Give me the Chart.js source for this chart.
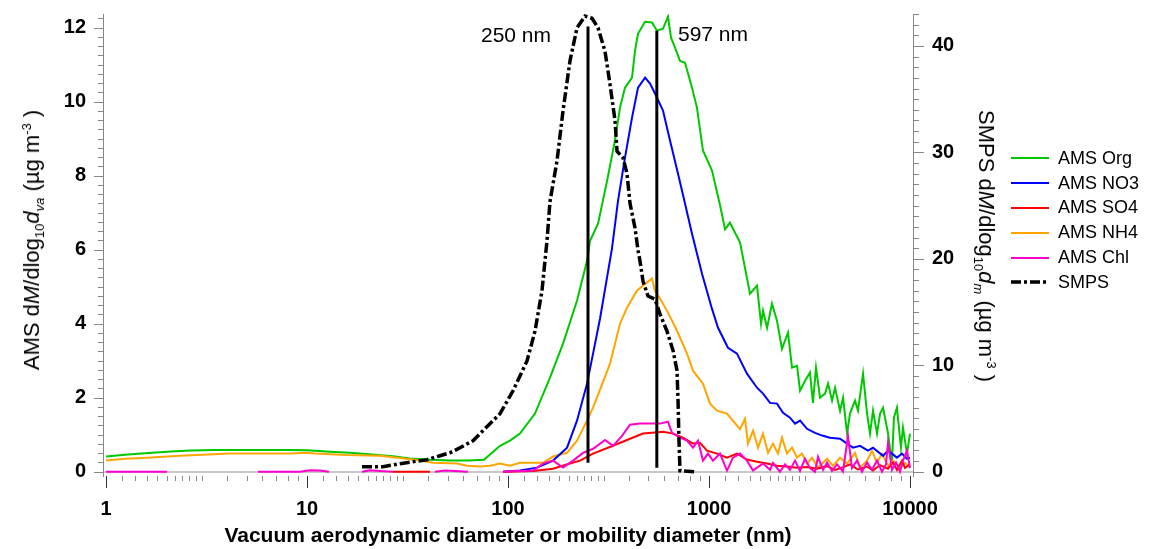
<!DOCTYPE html>
<html>
<head>
<meta charset="utf-8">
<script src="https://cdn.jsdelivr.net/npm/chart.js@4.4.1/dist/chart.umd.min.js"></script>
<style>
html,body{margin:0;padding:0;background:#fff;overflow:hidden;}
#wrap{position:relative;width:1157px;height:549px;font-family:"Liberation Sans",Arial,Helvetica,sans-serif;color:#000;}
#c{position:absolute;left:0;top:0;}
.vt{position:absolute;white-space:nowrap;font-size:22px;line-height:24px;}
.vt sub,.vt sup{font-size:13px;line-height:0;}
.ann{position:absolute;font-size:21px;line-height:24px;white-space:nowrap;}
#legend{position:absolute;left:1011px;top:146px;}
.lg{display:flex;align-items:center;height:24.8px;font-size:18px;white-space:nowrap;}
.lg svg{margin-right:9px;display:block;}
</style>
</head>
<body>
<div id="wrap">
<canvas id="c" width="1157" height="549"></canvas>
<div class="vt" style="left:32px;top:240px;transform:translate(-50%,-50%) rotate(-90deg);">AMS d<i>M</i>/dlog<sub>10</sub><i>d</i><sub><i>va</i></sub> (µg m<sup>-3</sup> )</div>
<div class="vt" style="left:986px;top:246px;transform:translate(-50%,-50%) rotate(90deg);">SMPS d<i>M</i>/dlog<sub>10</sub><i>d</i><sub><i>m</i></sub> (µg m<sup>-3</sup> )</div>
<div class="ann" id="ann0" style="left:471px;top:23px;width:80px;text-align:right;"></div>
<div class="ann" id="ann1" style="left:675px;top:22px;padding-left:3px;background:#fff;"></div>
<div id="legend"></div>
</div>
<script>
// ---------------- data ----------------
const orgDiam = [1.00,1.243,1.563,2.012,2.618,3.484,4.64,6.18,8.23,10.0,13.02,16.37,21.79,26.79,32.54,40.92,51.45,63.24,75.97,91.24,102.3,114.7,136.2,161.8,187.8,220.4,247.3,255.9,280.5,311.1,340.5,360.7,382.0,414.0,428.5,443.5,480.8,520.4,551.1,590.2,625.2,647.1,677.6,717.8,760,823,871,933,1035,1135,1202,1271,1426,1600,1733,1815,1857,1945,2057,2179,2307,2388,2472,2588,2742,2838,3006,3180,3290,3407,3568,3779,3912,4095,4239,4487,4645,4864,5027,5326,5512,5839,6114,6325,6546,6855,7096,7345,7780,8133,8318,8610,9016,9226,9662,10000];
const orgValues = [0.41,0.46,0.50,0.54,0.57,0.59,0.59,0.59,0.59,0.58,0.54,0.51,0.46,0.42,0.36,0.32,0.30,0.30,0.32,0.70,0.84,1.03,1.57,2.54,3.46,4.62,5.70,6.24,6.70,7.86,8.95,9.84,10.38,10.65,11.38,11.84,12.16,12.14,11.92,11.97,12.30,11.73,11.46,11.10,11.05,10.38,9.84,8.68,8.14,7.20,6.55,6.73,6.20,4.81,5.03,4.00,4.35,3.89,4.54,4.08,3.32,3.54,3.76,2.81,2.86,2.19,2.46,2.68,1.86,2.81,2.00,2.11,2.38,1.92,2.27,1.65,2.00,1.03,1.57,1.92,1.65,2.65,1.57,1.03,1.65,1.03,1.57,1.73,1.03,0.22,1.46,1.73,0.65,1.19,0.49,1.03];

const no3Diam = [94.4,114.7,139.4,167.5,196.7,220.4,247.3,264.9,287.0,329.0,352.6,382.0,414.0,443.5,480.8,508.8,538.7,590.2,639.7,701.3,760,823,923,1035,1109,1243,1378,1545,1733,1857,2012,2179,2335,2529,2679,2838,3073,3368,3692,3999,4487,4864,5205,5640,6180,6546,7345,7780,8610,9125,9662,10000];
const no3Values = [0.0,0.03,0.11,0.30,0.65,1.38,2.38,3.19,4.14,6.03,7.32,8.49,9.57,10.38,10.65,10.49,10.22,9.76,8.95,8.05,7.24,6.43,5.35,4.40,3.89,3.35,3.19,2.65,2.27,2.11,1.86,1.84,1.59,1.46,1.30,1.38,1.16,1.05,0.97,0.92,0.89,0.76,0.65,0.70,0.57,0.65,0.43,0.57,0.38,0.49,0.35,0.38];

const nh4Diam = [1.00,1.243,1.60,2.334,4.139,8.23,10.0,10.96,15.81,23.08,29.01,36.49,42.36,55.75,62.52,72.56,81.37,91.24,102.3,114.7,149.3,167.5,196.7,220.4,247.2,264.9,287.0,321.7,360.7,390.8,438.3,469.4,520.5,538.7,570.6,625.2,693.3,777.3,832.6,933.4,1012,1096,1229,1426,1511,1563,1656,1753,1856,1966,2082,2204,2308,2444,2588,2741,2902,3073,3253,3486,3865,4140,4485,4861,5325,5640,6111,6471,6853,7256,7773,8232,8918,9443,10000];
const nh4Values = [0.30,0.35,0.38,0.43,0.49,0.49,0.51,0.49,0.45,0.43,0.37,0.30,0.24,0.22,0.16,0.14,0.16,0.22,0.16,0.24,0.24,0.41,0.51,0.84,1.38,1.73,2.22,2.92,4.00,4.43,4.89,5.03,5.22,4.89,4.68,4.30,3.81,3.19,2.73,2.38,1.84,1.65,1.57,1.15,1.43,0.76,1.11,0.65,1.03,0.51,0.76,0.49,0.92,0.49,0.65,0.38,0.49,0.22,0.38,0.11,0.35,0.16,0.38,0.22,0.51,0.11,0.30,0.57,0.24,0.49,0.16,0.30,0.11,0.24,0.11];

const so4Diam = [26.79,40.92,64.7,94.4,133.2,167.5,203.4,228.2,264.9,333.0,404.6,469.4,520.5,590.3,662.2,742.5,832.6,902.2,977.3,1096,1229,1378,1545,1733,1943,2179,2444,2741,3073,3446,3865,4236,4642,5029,5511,6111,6545,7090,7773,8232,8617,9125,9443,10000];
const so4Values = [0,0,null,0,0.02,0.08,0.22,0.30,0.49,0.70,0.89,1.03,1.05,1.08,1.03,0.92,0.76,0.78,0.57,0.49,0.38,0.49,0.33,0.27,0.22,0.16,0.14,0.11,0.13,0.08,0.15,0.05,0.12,0.20,0.06,0.14,0.03,0.18,0.08,0.25,0.05,0.30,0.10,0.20];

const chlDiam = [1.00,2.012,2.936,5.70,9.23,10.35,11.60,12.87,15.45,18.78,20.58,23.08,26.79,34.45,43.34,48.60,54.49,63.24,76.84,94.4,133.2,149.3,167.5,187.8,210.6,236.2,264.9,303.8,333.0,369.2,404.6,453.6,508.8,570.6,625.2,654.6,717.3,777.3,832.6,881.9,933.4,988.5,1047,1134,1229,1316,1426,1545,1656,1733,1856,2012,2082,2255,2388,2529,2679,2836,3003,3181,3368,3486,3692,3865,4092,4333,4642,4915,5145,5448,5771,6111,6471,6853,7256,7597,7773,8136,8518,8918,9231,9662,10000];
const chlValues = [0,0,null,0,0,0.04,0.03,0,null,0,0.04,0.02,0,null,0,0.03,0.02,0,null,0,0.03,0.22,0.30,0.11,0.30,0.51,0.62,0.86,0.70,0.97,1.27,1.30,1.30,1.30,1.35,1.05,0.92,0.84,0.65,0.84,0.30,0.49,0.30,0.49,0.03,0.38,0.49,0.30,0.03,0.11,0.22,0.05,0.24,0.00,0.20,0.05,0.30,0.02,0.35,0.10,0.00,0.40,0.05,0.25,0.02,0.20,0.00,0.97,0.10,0.30,0.00,0.25,0.05,0.30,0.00,0.20,0.78,0.05,0.25,0.00,0.30,0.57,0.10];

const smpsDiam = [18.78,23.88,29.01,39.54,45.89,51.45,57.70,66.97,72.56,91.24,105.9,124.3,136.2,147.6,156.3,161.8,175.3,187.8,203.4,220.4,241.7,261.8,280.4,303.8,321.7,340.7,348.6,373.4,390.8,404.6,428.4,443.5,453.6,469.4,497.2,538.7,570.6,618.0,662.2,693.3,701.3,709.1,717.3,851.9];
const smpsValues = [0.47,0.47,0.75,1.13,1.50,1.78,2.25,2.91,3.57,5.45,7.6,10.4,13.2,17.0,21.7,25.4,29.2,33.9,38.6,41.7,42.8,42.6,41.7,39.5,36.4,33.0,30.1,29.5,28.0,25.2,22.9,20.8,19.8,17.9,16.5,16.2,14.8,13.2,11.4,9.5,6.7,2.9,0.09,0.0];

const markerDiam = [250, 550];
const markerBottom = [0.24, 0.11];
const markerTop = [12.03, 11.92];
const markerLabels = ['250 nm', '597 nm'];

const seriesNames = ['AMS Org', 'AMS NO3', 'AMS SO4', 'AMS NH4', 'AMS Chl', 'SMPS'];
const xTickLabels = [1, 10, 100, 1000, 10000];
const yLeftTicks = [0, 2, 4, 6, 8, 10, 12];
const yRightTicks = [0, 10, 20, 30, 40];

// ---------------- styling ----------------
const colors = {
  'AMS Org': '#00c800', 'AMS NO3': '#0000ff', 'AMS SO4': '#ff0000',
  'AMS NH4': '#ffa500', 'AMS Chl': '#ff00cc', 'SMPS': '#000000'
};
const smpsDash = [10, 3, 3, 3];
const xMinorMult = [1,1.2,1.4,1.6,1.8,2,2.2,2.4,2.6,2.8,3,4,5,6,7,8,9];

function pts(d, v) { return d.map((x, i) => ({ x: x, y: v[i] })); }

const amsSets = {
  'AMS Org': pts(orgDiam, orgValues),
  'AMS NO3': pts(no3Diam, no3Values),
  'AMS SO4': pts(so4Diam, so4Values),
  'AMS NH4': pts(nh4Diam, nh4Values),
  'AMS Chl': pts(chlDiam, chlValues)
};

const datasets = [];
markerDiam.forEach((d, i) => {
  datasets.push({
    label: 'marker' + i, data: [{ x: d, y: markerBottom[i] }, { x: d, y: markerTop[i] }],
    borderColor: '#000', borderWidth: 3, yAxisID: 'y', pointRadius: 0, fill: false
  });
});
datasets.push({
  label: 'SMPS', data: pts(smpsDiam, smpsValues), yAxisID: 'y2',
  borderColor: colors['SMPS'], borderWidth: 3.5, borderDash: smpsDash, pointRadius: 0, fill: false
});
['AMS Chl', 'AMS SO4', 'AMS NO3', 'AMS NH4', 'AMS Org'].forEach(n => {
  datasets.push({
    label: n, data: amsSets[n], yAxisID: 'y',
    borderColor: colors[n], borderWidth: 2, pointRadius: 0, fill: false, spanGaps: false
  });
});

const FONT = '"Liberation Sans", Arial, Helvetica, sans-serif';
Chart.defaults.font.family = FONT;
Chart.defaults.color = '#000';

const tickMarks = {
  id: 'tickMarks',
  afterDraw(chart) {
    const { ctx, chartArea: ca } = chart;
    const x = chart.scales.x, y = chart.scales.y, y2 = chart.scales.y2;
    ctx.save();
    ctx.lineWidth = 1;
    for (let e = 0; e <= 4; e++) {
      const base = Math.pow(10, e);
      const mults = e < 4 ? xMinorMult : [1];
      mults.forEach(m => {
        const px = Math.round(x.getPixelForValue(m * base)) + 0.5;
        const major = m === 1;
        ctx.strokeStyle = major ? '#333' : '#888';
        ctx.beginPath();
        ctx.moveTo(px, ca.bottom);
        ctx.lineTo(px, ca.bottom + (major ? 12 : 5));
        ctx.stroke();
      });
    }
    ctx.strokeStyle = '#888';
    for (let k = 0; k * 0.25 <= y.max; k++) {
      const py = Math.round(y.getPixelForValue(k * 0.25)) + 0.5;
      const len = (k % 8 === 0) ? 9 : 5;
      ctx.beginPath(); ctx.moveTo(ca.left - len, py); ctx.lineTo(ca.left, py); ctx.stroke();
    }
    for (let k = 0; k <= y2.max; k++) {
      const py = Math.round(y2.getPixelForValue(k)) + 0.5;
      const len = (k % 10 === 0) ? 11 : 6;
      ctx.beginPath(); ctx.moveTo(ca.right, py); ctx.lineTo(ca.right + len, py); ctx.stroke();
    }
    ctx.restore();
  }
};

function noPad(s) { s.paddingTop = 0; s.paddingBottom = 0; }

new Chart(document.getElementById('c'), {
  type: 'line',
  data: { datasets: datasets },
  options: {
    responsive: false, animation: false, devicePixelRatio: 1,
    layout: { padding: { top: 14, left: 0, right: 0, bottom: 0 } },
    elements: { line: { tension: 0 }, point: { radius: 0 } },
    plugins: { legend: { display: false }, tooltip: { enabled: false } },
    scales: {
      x: {
        type: 'logarithmic', position: 'bottom', min: 0.966, max: 10350,
        grid: { display: false }, border: { display: false },
        afterBuildTicks: s => { s.ticks = xTickLabels.map(v => ({ value: v })); },
        afterFit: s => { s.height = 73; s.paddingLeft = 0; s.paddingRight = 0; },
        ticks: { autoSkip: false, maxRotation: 0, padding: 13, color: '#000',
          font: { size: 20, weight: 'bold' }, callback: v => String(v) },
        title: { display: true, text: 'Vacuum aerodynamic diameter or mobility diameter (nm)',
          color: '#000', font: { size: 21, weight: 'bold' }, padding: { top: 0, bottom: 0 } }
      },
      y: {
        type: 'linear', position: 'left', min: -0.116, max: 12.37,
        afterBuildTicks: s => { s.ticks = yLeftTicks.map(v => ({ value: v })); },
        afterFit: s => { s.width = 103; noPad(s); },
        grid: { drawTicks: false, lineWidth: 2,
          color: c => (c.tick && c.tick.value === 0) ? '#c8c8c8' : 'rgba(0,0,0,0)' },
        border: { display: true, color: '#888', width: 1 },
        ticks: { padding: 17, color: '#000', font: { size: 20, weight: 'bold' } }
      },
      y2: {
        type: 'linear', position: 'right', min: -0.403, max: 43.0,
        afterBuildTicks: s => { s.ticks = yRightTicks.map(v => ({ value: v })); },
        afterFit: s => { s.width = 244; noPad(s); },
        grid: { display: false },
        border: { display: true, color: '#888', width: 1 },
        ticks: { padding: 11, color: '#000', font: { size: 20, weight: 'bold' } }
      }
    }
  },
  plugins: [tickMarks]
});

// annotations
document.getElementById('ann0').textContent = markerLabels[0];
document.getElementById('ann1').textContent = markerLabels[1];

// HTML legend
const lg = document.getElementById('legend');
seriesNames.forEach(n => {
  const row = document.createElement('div');
  row.className = 'lg';
  const isSmps = n === 'SMPS';
  const dash = isSmps ? ' stroke-dasharray="' + smpsDash.join(' ') + '"' : '';
  row.innerHTML = '<svg width="38" height="8"><line x1="0" y1="4" x2="38" y2="4" stroke="' + colors[n] +
    '" stroke-width="' + (isSmps ? 3.5 : 2) + '"' + dash + '/></svg><span>' + n + '</span>';
  lg.appendChild(row);
});
</script>
</body>
</html>
